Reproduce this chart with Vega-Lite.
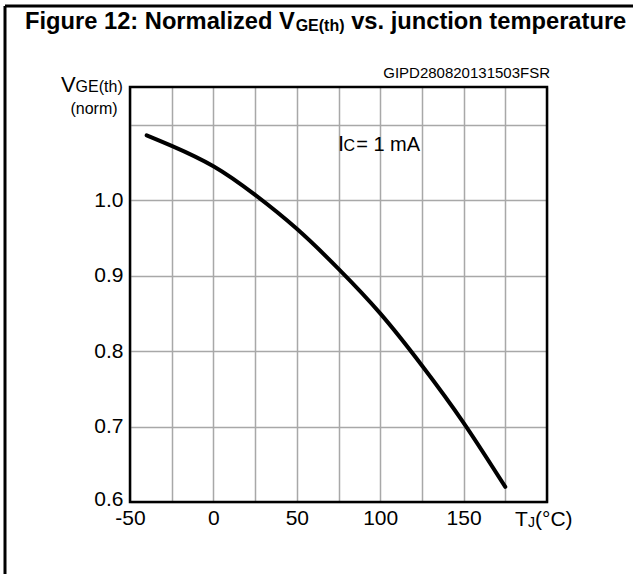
{
  "$schema": "https://vega.github.io/schema/vega-lite/v6.json",
  "width": 417,
  "height": 415,
  "autosize": {"type": "none"},
  "padding": {"left": 130, "top": 87, "right": 86, "bottom": 72},
  "background": "white",
  "config": {"font": "Liberation Sans", "view": {"stroke": null}},
  "layer": [
    {
      "data": {"values": [
        {"T": -40, "V": 1.086},
        {"T": -25, "V": 1.072},
        {"T": 0, "V": 1.045},
        {"T": 25, "V": 1.007},
        {"T": 50, "V": 0.962},
        {"T": 75, "V": 0.909},
        {"T": 100, "V": 0.85},
        {"T": 125, "V": 0.781},
        {"T": 150, "V": 0.705},
        {"T": 175, "V": 0.62}
      ]},
      "mark": {"type": "line", "color": "black", "strokeWidth": 4, "interpolate": "natural", "strokeCap": "round"},
      "encoding": {
        "x": {"field": "T", "type": "quantitative",
          "scale": {"domain": [-50, 200], "nice": false, "zero": false},
          "axis": {"title": null, "values": [-50, -25, 0, 25, 50, 75, 100, 125, 150, 175, 200],
            "labelExpr": "datum.value % 50 == 0 && datum.value < 200 ? '' + datum.value : ''",
            "grid": true, "gridColor": "#a8a8a8", "gridWidth": 1.5, "gridOpacity": 1,
            "domain": false, "ticks": false, "tickSize": 0, "labelPadding": 5,
            "labelFontSize": 21, "labelColor": "black", "labelFlush": false}},
        "y": {"field": "V", "type": "quantitative",
          "scale": {"domain": [0.6, 1.15], "nice": false, "zero": false},
          "axis": {"title": null, "values": [0.6, 0.65, 0.7, 0.75, 0.8, 0.85, 0.9, 0.95, 1.0, 1.05, 1.1, 1.15],
            "labelExpr": "round(datum.value*100) % 10 == 0 && datum.value < 1.05 ? format(datum.value, '.1f') : ''",
            "grid": true, "gridColor": "#a8a8a8", "gridWidth": 1.5, "gridOpacity": 1,
            "domain": false, "ticks": false, "tickSize": 0, "labelPadding": 7,
            "labelFontSize": 21, "labelColor": "black", "labelFlush": true, "labelFlushOffset": 7}}
      }
    },
    {
      "data": {"values": [{}]},
      "mark": {"type": "rect", "filled": false, "stroke": "black", "strokeWidth": 2.5},
      "encoding": {"x": {"datum": -50}, "x2": {"datum": 200}, "y": {"datum": 0.6}, "y2": {"datum": 1.15}}
    },
    {
      "data": {"values": [{}]},
      "mark": {"type": "rule", "stroke": "black", "strokeWidth": 3},
      "encoding": {"x": {"datum": -124.94}, "y": {"datum": 1.2573}, "y2": {"datum": 0.47}}
    },
    {
      "data": {"values": [{}]},
      "mark": {"type": "rule", "stroke": "black", "strokeWidth": 3},
      "encoding": {"x": {"datum": -124.94}, "x2": {"datum": 261.75}, "y": {"datum": 1.2573}}
    },
    {
      "data": {"values": [{}]},
      "mark": {"type": "text", "text": "Figure 12: Normalized V", "align": "left", "baseline": "alphabetic", "fontSize": 23.7, "fontWeight": "bold", "color": "black"},
      "encoding": {"x": {"datum": -112.95}, "y": {"datum": 1.2269}}
    },
    {
      "data": {"values": [{}]},
      "mark": {"type": "text", "text": "GE(th)", "align": "left", "baseline": "alphabetic", "fontSize": 16, "fontWeight": "bold", "color": "black"},
      "encoding": {"x": {"datum": 49.3}, "y": {"datum": 1.2242}}
    },
    {
      "data": {"values": [{}]},
      "mark": {"type": "text", "text": "vs. junction temperature", "align": "left", "baseline": "alphabetic", "fontSize": 23.7, "fontWeight": "bold", "color": "black"},
      "encoding": {"x": {"datum": 82.6}, "y": {"datum": 1.2269}}
    },
    {
      "data": {"values": [{}]},
      "mark": {"type": "text", "text": "GIPD280820131503FSR", "align": "right", "baseline": "alphabetic", "fontSize": 15, "color": "black"},
      "encoding": {"x": {"datum": 201.8}, "y": {"datum": 1.1619}}
    },
    {
      "data": {"values": [{}]},
      "mark": {"type": "text", "text": "V", "align": "left", "baseline": "alphabetic", "fontSize": 22, "color": "black"},
      "encoding": {"x": {"datum": -91.4}, "y": {"datum": 1.1434}}
    },
    {
      "data": {"values": [{}]},
      "mark": {"type": "text", "text": "GE(th)", "align": "left", "baseline": "alphabetic", "fontSize": 16, "color": "black"},
      "encoding": {"x": {"datum": -82.6}, "y": {"datum": 1.1434}}
    },
    {
      "data": {"values": [{}]},
      "mark": {"type": "text", "text": "(norm)", "align": "center", "baseline": "alphabetic", "fontSize": 16, "color": "black"},
      "encoding": {"x": {"datum": -71.58}, "y": {"datum": 1.1142}}
    },
    {
      "data": {"values": [{}]},
      "mark": {"type": "text", "text": "T", "align": "left", "baseline": "alphabetic", "fontSize": 21, "color": "black"},
      "encoding": {"x": {"datum": 180.8}, "y": {"datum": 0.5682}}
    },
    {
      "data": {"values": [{}]},
      "mark": {"type": "text", "text": "J", "align": "left", "baseline": "alphabetic", "fontSize": 14, "color": "black"},
      "encoding": {"x": {"datum": 188.6}, "y": {"datum": 0.5669}}
    },
    {
      "data": {"values": [{}]},
      "mark": {"type": "text", "text": "(°C)", "align": "left", "baseline": "alphabetic", "fontSize": 21, "color": "black"},
      "encoding": {"x": {"datum": 192.8}, "y": {"datum": 0.5682}}
    },
    {
      "data": {"values": [{}]},
      "mark": {"type": "text", "text": "I", "align": "left", "baseline": "alphabetic", "fontSize": 22, "color": "black"},
      "encoding": {"x": {"datum": 74.7}, "y": {"datum": 1.0652}}
    },
    {
      "data": {"values": [{}]},
      "mark": {"type": "text", "text": "C", "align": "left", "baseline": "alphabetic", "fontSize": 16, "color": "black"},
      "encoding": {"x": {"datum": 78.0}, "y": {"datum": 1.0652}}
    },
    {
      "data": {"values": [{}]},
      "mark": {"type": "text", "text": "= 1 mA", "align": "left", "baseline": "alphabetic", "fontSize": 20, "color": "black"},
      "encoding": {"x": {"datum": 85.6}, "y": {"datum": 1.0652}}
    }
  ]
}
